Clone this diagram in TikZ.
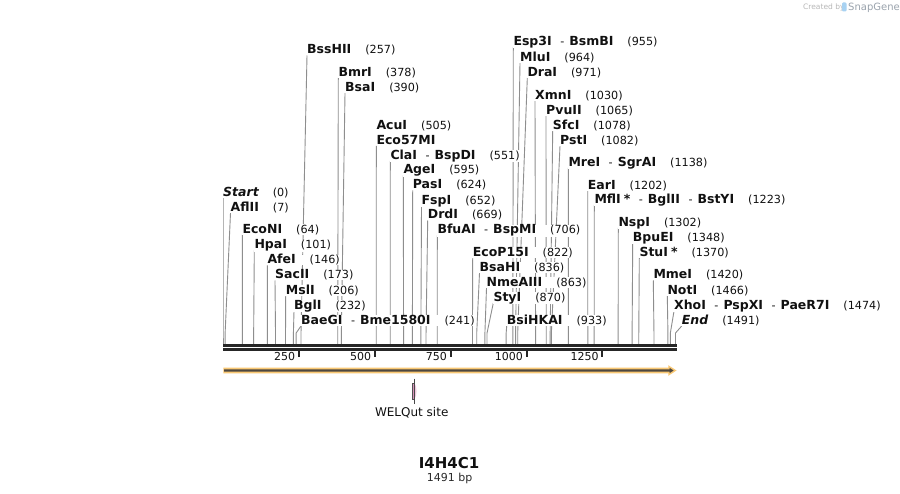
\documentclass[tikz,border=0pt]{standalone}
\usepackage{fontspec}
\setmainfont{DejaVu Sans}
\usetikzlibrary{calc,backgrounds}
\pgfdeclarelayer{bottom}
\pgfdeclarelayer{background}
\pgfsetlayers{bottom,background,main}
\definecolor{elinec}{HTML}{8E8E8E}
\definecolor{barc}{HTML}{262626}
\definecolor{txtc}{HTML}{111111}
\definecolor{featorange}{HTML}{F9C874}
\definecolor{featdark}{HTML}{4D4740}
\definecolor{welqpink}{HTML}{D690B8}
\definecolor{welqlight}{HTML}{EFC6DC}
\definecolor{credgrey}{HTML}{B8B8B8}
\definecolor{snapgrey}{HTML}{9AA3AD}
\definecolor{snapblue}{HTML}{A8D2F2}
\newcommand\nm[1]{{\fontsize{12.5}{14}\selectfont\bfseries #1}}
\newcommand\nmi[1]{{\fontsize{12.5}{14}\selectfont\bfseries\itshape #1}}
\newcommand\nb[1]{\hspace{14pt}{\fontsize{11.2}{13}\selectfont(#1)}}
\newcommand\dsep{\hspace{8.5pt}{\fontsize{11.2}{13}\selectfont-}\hspace{5pt}}
% id, label x, label centre y, position (bp), text
\newcommand\enz[5]{%
  \node[lbl] (#1) at (#2-1,#3+4.5) {#5};
  \coordinate (#1-s) at (223+0.3035*#4,344);
  \begin{pgfonlayer}{background}
    \draw[eline] ($(#1.base west)+(1,1.5)$) -- (223+0.3035*#4,333) -- (#1-s);
  \end{pgfonlayer}}
\tikzset{
  lbl/.style={anchor=base west, inner xsep=1pt, inner ysep=0pt, fill=white, text=txtc},
  eline/.style={draw=elinec, line width=0.9pt},
  tickmark/.style={draw=barc, line width=2pt},
  ticklbl/.style={anchor=base east, inner sep=0pt, text=txtc, font=\fontsize{11}{13}\selectfont},
}
\begin{document}
\begin{tikzpicture}[x=1pt,y=-1pt]
\useasboundingbox (0,0) rectangle (900,494);
\begin{pgfonlayer}{bottom}
\fill[white] (0,0) rectangle (900,494);
\end{pgfonlayer}

% credit
\node[anchor=base west, inner sep=0pt, text=credgrey, font=\fontsize{7.5}{9}\selectfont] (cred) at (803,10) {Created by};
\fill[snapblue, rounded corners=1.2pt] (842,2.5) rectangle (846.5,11.5);
\node[anchor=base west, inner sep=0pt, text=snapgrey, font=\fontsize{10}{12}\selectfont] (snap) at (848,11) {SnapGene};

% left group
\enz{nstart}{223}{192}{0}{\nmi{Start}\nb{0}}
\enz{afl}{230.5}{207}{7}{\nm{AflII}\nb{7}}
\enz{econ}{242.3}{229}{64}{\nm{EcoNI}\nb{64}}
\enz{hpa}{254.3}{244.5}{101}{\nm{HpaI}\nb{101}}
\enz{afe}{267.3}{259.5}{146}{\nm{AfeI}\nb{146}}
\enz{sac}{275}{274.5}{173}{\nm{SacII}\nb{173}}
\enz{msl}{285.7}{290}{206}{\nm{MslI}\nb{206}}
\enz{bgl}{294}{305}{232}{\nm{BglI}\nb{232}}
\enz{bae}{301}{320}{241}{\nm{BaeGI}\dsep\nm{Bme1580I}\nb{241}}

\enz{bss}{307}{49.5}{257}{\nm{BssHII}\nb{257}}
\enz{bmr}{338.3}{72}{378}{\nm{BmrI}\nb{378}}
\enz{bsa}{345}{87}{390}{\nm{BsaI}\nb{390}}
\node[lbl] (acu) at (375.3,129.5) {\nm{AcuI}\nb{505}};
\enz{ecofs}{376.3}{140}{505}{\nm{Eco57MI}}
\enz{cla}{390.3}{155}{551}{\nm{ClaI}\dsep\nm{BspDI}\nb{551}}
\enz{age}{403.3}{169.5}{595}{\nm{AgeI}\nb{595}}
\enz{pas}{412.7}{184.5}{624}{\nm{PasI}\nb{624}}
\enz{fsp}{421.5}{200}{652}{\nm{FspI}\nb{652}}
\enz{drd}{427.7}{214.5}{669}{\nm{DrdI}\nb{669}}
\enz{bfu}{437.3}{229.5}{706}{\nm{BfuAI}\dsep\nm{BspMI}\nb{706}}

\enz{ecop}{472.7}{252}{822}{\nm{EcoP15I}\nb{822}}
\enz{bsah}{479.5}{267}{836}{\nm{BsaHI}\nb{836}}
\enz{nme}{486.5}{282}{863}{\nm{NmeAIII}\nb{863}}
\enz{sty}{493.3}{297}{870}{\nm{StyI}\nb{870}}
\enz{bsih}{506.7}{320}{933}{\nm{BsiHKAI}\nb{933}}

% right group
\enz{esp}{513.3}{41}{955}{\nm{Esp3I}\dsep\nm{BsmBI}\nb{955}}
\enz{mlu}{520}{57}{964}{\nm{MluI}\nb{964}}
\enz{dra}{527.3}{72}{971}{\nm{DraI}\nb{971}}
\enz{xmn}{535}{95}{1030}{\nm{XmnI}\nb{1030}}
\enz{pvu}{546}{110}{1065}{\nm{PvuII}\nb{1065}}
\enz{sfc}{552.7}{125}{1078}{\nm{SfcI}\nb{1078}}
\enz{pst}{560}{140}{1082}{\nm{PstI}\nb{1082}}
\enz{mre}{568.3}{162}{1138}{\nm{MreI}\dsep\nm{SgrAI}\nb{1138}}
\enz{ear}{587.7}{185}{1202}{\nm{EarI}\nb{1202}}
\enz{mfl}{594.3}{199}{1223}{\nm{MflI}\hspace{3pt}\nm{*}\dsep\nm{BglII}\dsep\nm{BstYI}\nb{1223}}
\enz{nsp}{618.3}{222}{1302}{\nm{NspI}\nb{1302}}
\enz{bpu}{632.7}{237}{1348}{\nm{BpuEI}\nb{1348}}
\enz{stu}{639.3}{252}{1370}{\nm{StuI}\hspace{3pt}\nm{*}\nb{1370}}
\enz{mme}{653.3}{274.5}{1420}{\nm{MmeI}\nb{1420}}
\enz{notI}{667.3}{290}{1466}{\nm{NotI}\nb{1466}}
\enz{xho}{674}{305}{1474}{\nm{XhoI}\dsep\nm{PspXI}\dsep\nm{PaeR7I}\nb{1474}}
\enz{nend}{681.7}{320}{1491}{\nmi{End}\nb{1491}}

% sequence bar
\draw[barc, line width=2.7pt] (223,345.35) -- (677,345.35);
\draw[barc, line width=2.7pt] (223,349.35) -- (677,349.35);

% ticks
\foreach \t/\xx in {250/298.9,500/374.8,750/450.6,1000/526.5,1250/602.4}{
  \draw[tickmark] (\xx,350.7) -- (\xx,356.7);
  \node[ticklbl] (tl\t) at (\xx-3.5,361) {\t};
}

% feature arrow
\fill[featorange] (223.3,367.7) -- (668.3,367.7) -- (668.3,365.2) -- (676.5,370.5)
   -- (668.3,375.8) -- (668.3,373.3) -- (223.3,373.3) -- cycle;
\fill[featdark] (224,369.35) -- (669.5,369.35) -- (669.5,367.8) -- (673.6,370.5)
   -- (669.5,373.2) -- (669.5,371.65) -- (224,371.65) -- cycle;

% WELQut site
\fill[welqlight] (414.5,383) .. controls (417.2,387) and (417.2,395) .. (414.5,399.3) -- cycle;
\filldraw[fill=welqpink, draw=barc!80, line width=0.6pt] (412,383) rectangle (414.5,399.3);
\draw[barc!85, line width=0.9pt] (414.5,378.7) -- (414.5,403.7);
\node[anchor=base, inner sep=0pt, text=txtc, font=\fontsize{12}{14}\selectfont] (welq) at (411.7,417) {WELQut site};

% title
\node[anchor=base, inner sep=0pt, text=txtc, font=\fontsize{15}{17}\selectfont\bfseries] (title) at (449,468.5) {I4H4C1};
\node[anchor=base, inner sep=0pt, text=txtc!90, font=\fontsize{11}{13}\selectfont] (len) at (449.7,481.5) {1491 bp};
\end{tikzpicture}
\end{document}
